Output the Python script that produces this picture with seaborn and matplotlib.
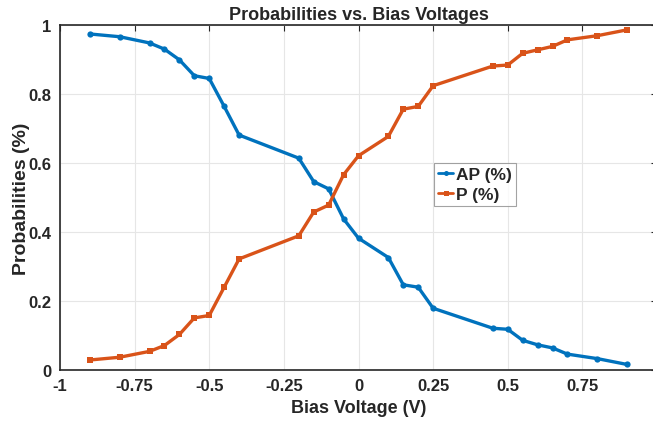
import matplotlib
matplotlib.use("Agg")
import matplotlib.pyplot as plt
import seaborn as sns
import pandas as pd

voltage = [-0.9, -0.8, -0.7, -0.65, -0.6, -0.55, -0.5, -0.45, -0.4, -0.2, -0.15, -0.1,
           -0.05, 0.0, 0.1, 0.15, 0.2, 0.25, 0.45, 0.5, 0.55, 0.6, 0.65, 0.7, 0.8, 0.9]
ap = [0.974, 0.966, 0.948, 0.930, 0.899, 0.853, 0.845, 0.764, 0.681, 0.614, 0.546, 0.525,
      0.438, 0.382, 0.326, 0.247, 0.240, 0.179, 0.121, 0.118, 0.086, 0.073, 0.064, 0.046, 0.033, 0.016]
p = [0.029, 0.037, 0.054, 0.071, 0.103, 0.151, 0.158, 0.240, 0.322, 0.389, 0.458, 0.478,
     0.566, 0.621, 0.677, 0.756, 0.764, 0.824, 0.881, 0.884, 0.918, 0.928, 0.938, 0.957, 0.969, 0.986]
series_names = ["AP (%)", "P (%)"]
x_ticks = [-1, -0.75, -0.5, -0.25, 0, 0.25, 0.5, 0.75]
x_tick_labels = ["-1", "-0.75", "-0.5", "-0.25", "0", "0.25", "0.5", "0.75"]
y_ticks = [0, 0.2, 0.4, 0.6, 0.8, 1.0]
y_tick_labels = ["0", "0.2", "0.4", "0.6", "0.8", "1"]

df = pd.DataFrame({
    "Voltage": voltage * 2,
    "Prob": ap + p,
    "Series": [series_names[0]] * len(voltage) + [series_names[1]] * len(voltage),
})

sns.set_theme(style="white")
plt.rcParams["font.family"] = ["Liberation Sans", "DejaVu Sans"]

fig = plt.figure(figsize=(6.53, 4.27), dpi=100)
ax = fig.add_axes([60 / 653, 1 - 371 / 427, 597 / 653, 345 / 427])

palette = {"AP (%)": "#0072BD", "P (%)": "#D95319"}
sns.lineplot(data=df, x="Voltage", y="Prob", hue="Series", style="Series",
             markers={"AP (%)": "o", "P (%)": "s"}, dashes=False, palette=palette,
             linewidth=2.4, markersize=4.5, markeredgewidth=0, ax=ax)

ax.set_xlim(-1, 1)
ax.set_ylim(0, 1)
ax.set_xticks(x_ticks)
ax.set_xticklabels(x_tick_labels, fontsize=12, fontweight="bold", color="#262626")
ax.set_yticks(y_ticks)
ax.set_yticklabels(y_tick_labels, fontsize=12, fontweight="bold", color="#262626")
ax.tick_params(direction="in", length=4, width=0.8, top=True, right=True, colors="#262626",
               labelcolor="#262626", pad=6)
ax.grid(True, color="#e6e6e6", linewidth=0.8)
for s in ax.spines.values():
    s.set_visible(True)
    s.set_color("#262626")
    s.set_linewidth(1.2)

ax.set_xlabel("Bias Voltage (V)", fontsize=13, fontweight="bold", color="#262626", labelpad=4)
ax.set_ylabel("Probabilities (%)", fontsize=14, fontweight="bold", color="#262626", labelpad=-1)
ax.set_title("Probabilities vs. Bias Voltages", fontsize=13, fontweight="bold", pad=4)

leg = ax.legend(loc="upper left", bbox_to_anchor=((434 - 60) / 597, (371 - 164) / 345),
                prop={"weight": "bold", "size": 12.5}, frameon=True, fancybox=False,
                handlelength=0.85, handletextpad=0.15, borderpad=0.25, labelspacing=0.25,
                borderaxespad=0, markerscale=0.8)
leg.get_frame().set_edgecolor("#8c8c8c")
leg.get_frame().set_linewidth(0.8)
for line in leg.get_lines():
    line.set_linewidth(2.0)

fig.savefig("out.png", dpi=100)
